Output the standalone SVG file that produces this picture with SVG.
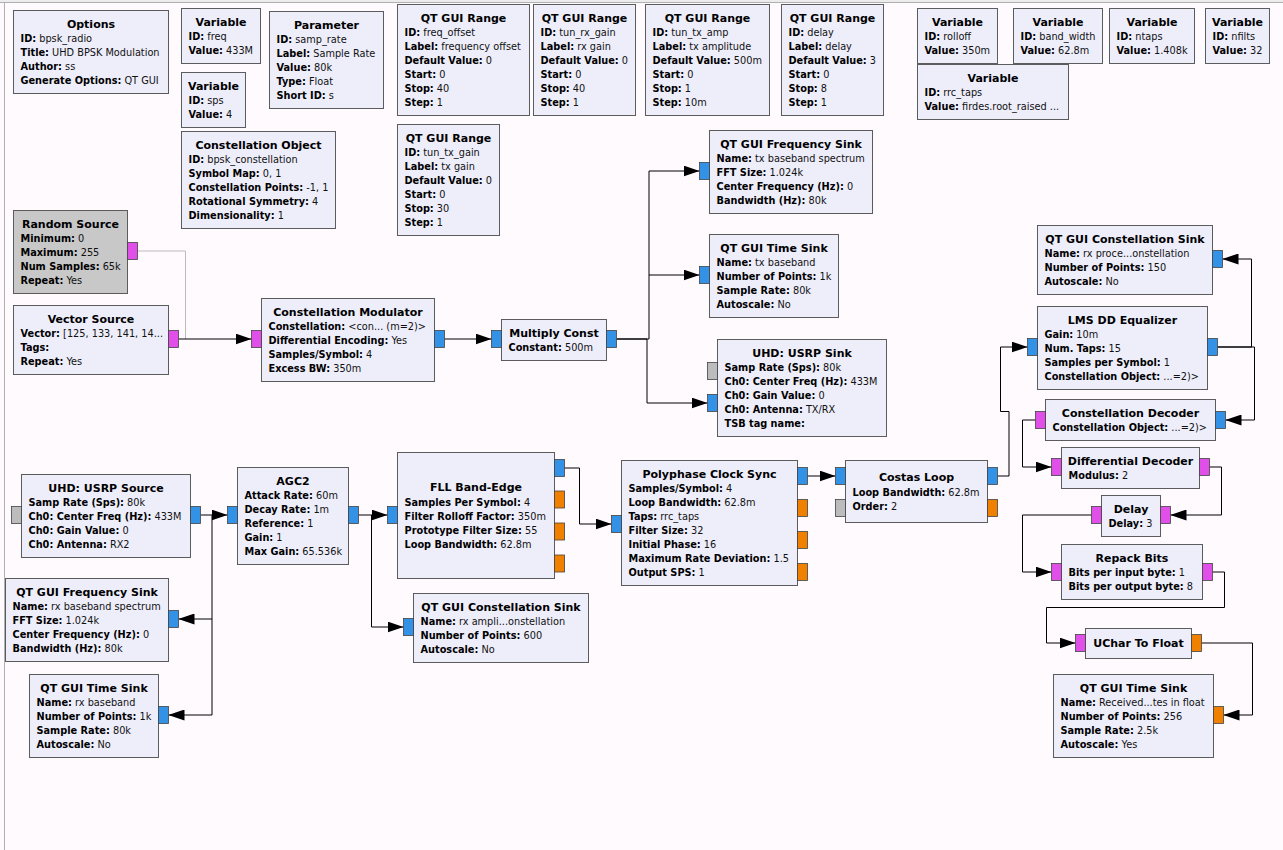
<svg xmlns="http://www.w3.org/2000/svg" width="1283" height="850" viewBox="0 0 1283 850">
<defs>
<style>
.blk{fill:#eeeefb;stroke:#5c5c5c;stroke-width:1}
.dis{fill:#c8c8c8;stroke:#5c5c5c;stroke-width:1}
.t{font-family:"DejaVu Sans",sans-serif;font-size:11px;font-weight:bold;text-anchor:middle;fill:#000}
.p{font-family:"DejaVu Sans",sans-serif;font-size:9.75px;fill:#111}
.b{font-weight:bold;fill:#000}
.pc{fill:#3492e6;stroke:#444;stroke-width:0.8}
.pb{fill:#e050e8;stroke:#444;stroke-width:0.8}
.pf{fill:#f08000;stroke:#444;stroke-width:0.8}
.pm{fill:#bcbcbc;stroke:#444;stroke-width:0.8}
.c{fill:none;stroke:#000;stroke-width:1;marker-end:url(#arr)}
.cn{fill:none;stroke:#000;stroke-width:1}
</style>
<marker id="arr" viewBox="0 0 16 11" refX="16" refY="5.5" markerWidth="16" markerHeight="11" markerUnits="userSpaceOnUse" orient="auto">
<path d="M0,0 L16,5.5 L0,11 z" fill="#000"/>
</marker>
</defs>
<rect x="0" y="0" width="1283" height="850" fill="#fefafe"/>
<rect x="0" y="0" width="1283" height="2" fill="#ececec"/>
<line x1="0" y1="2.5" x2="1283" y2="2.5" stroke="#b0b0b0"/>
<line x1="4.5" y1="2.5" x2="4.5" y2="850" stroke="#b0b0b0"/>

<g id="connectors">
<path d="M137.5,251 H185.5 V339" fill="none" stroke="#bbbbbb" stroke-width="1"/>
<path class="c" d="M178.5,339 H251.5"/>
<path class="c" d="M444.5,339 H491.5"/>
<path class="c" d="M616.5,339 H649 V171 H699.5"/>
<path class="c" d="M649,275 H699.5"/>
<path class="c" d="M616.5,339 H647 V403 H707.5"/>
<path class="c" d="M200.5,515 H227.5"/>
<path class="cn" d="M212,515 V715"/>
<path class="c" d="M212,619 H178.5"/>
<path class="c" d="M212,715 H168.5"/>
<path class="c" d="M358.5,515 H387.5"/>
<path class="c" d="M371.5,515 V627 H403.5"/>
<path class="c" d="M564.5,468 H579.5 V524 H611.5"/>
<path class="c" d="M807.5,476 H835.5"/>
<path class="c" d="M997.5,476 H1009 V411.5 H1000.5 V347 H1027.5"/>
<path class="c" d="M1217.5,347 H1251.5 V259 H1222.5"/>
<path class="c" d="M1217.5,347 H1254.5 V420 H1225.5"/>
<path class="c" d="M1035.5,420 H1022.5 V467 H1051.5"/>
<path class="c" d="M1209.5,467 H1221.5 V515 H1170.5"/>
<path class="c" d="M1091.5,515 H1022.5 V572 H1051.5"/>
<path class="c" d="M1212.5,572 H1224.5 V607.5 H1046.5 V643 H1075.5"/>
<path class="c" d="M1201.5,643 H1252.5 V715 H1223.5"/>
</g>

<g id="options">
<rect class="blk" x="13.5" y="10.5" width="155" height="83"/>
<text class="t" x="91" y="27.5">Options</text>
<text class="p" x="20.5" y="42"><tspan class="b">ID:</tspan> bpsk_radio</text>
<text class="p" x="20.5" y="56"><tspan class="b">Title:</tspan> UHD BPSK Modulation</text>
<text class="p" x="20.5" y="70"><tspan class="b">Author:</tspan> ss</text>
<text class="p" x="20.5" y="84"><tspan class="b">Generate Options:</tspan> QT GUI</text>
</g>

<g id="var_freq">
<rect class="blk" x="181.5" y="8.5" width="79" height="55"/>
<text class="t" x="221" y="25.5">Variable</text>
<text class="p" x="188.5" y="40"><tspan class="b">ID:</tspan> freq</text>
<text class="p" x="188.5" y="54"><tspan class="b">Value:</tspan> 433M</text>
</g>

<g id="var_sps">
<rect class="blk" x="181.5" y="72.5" width="64" height="55"/>
<text class="t" x="213.5" y="89.5">Variable</text>
<text class="p" x="188.5" y="104"><tspan class="b">ID:</tspan> sps</text>
<text class="p" x="188.5" y="118"><tspan class="b">Value:</tspan> 4</text>
</g>

<g id="param_samp_rate">
<rect class="blk" x="269.5" y="11.5" width="114" height="97"/>
<text class="t" x="326.5" y="28.5">Parameter</text>
<text class="p" x="276.5" y="43"><tspan class="b">ID:</tspan> samp_rate</text>
<text class="p" x="276.5" y="57"><tspan class="b">Label:</tspan> Sample Rate</text>
<text class="p" x="276.5" y="71"><tspan class="b">Value:</tspan> 80k</text>
<text class="p" x="276.5" y="85"><tspan class="b">Type:</tspan> Float</text>
<text class="p" x="276.5" y="99"><tspan class="b">Short ID:</tspan> s</text>
</g>

<g id="const_obj">
<rect class="blk" x="181.5" y="131.5" width="154" height="97"/>
<text class="t" x="258.5" y="148.5">Constellation Object</text>
<text class="p" x="188.5" y="163"><tspan class="b">ID:</tspan> bpsk_constellation</text>
<text class="p" x="188.5" y="177"><tspan class="b">Symbol Map:</tspan> 0, 1</text>
<text class="p" x="188.5" y="191"><tspan class="b">Constellation Points:</tspan> -1, 1</text>
<text class="p" x="188.5" y="205"><tspan class="b">Rotational Symmetry:</tspan> 4</text>
<text class="p" x="188.5" y="219"><tspan class="b">Dimensionality:</tspan> 1</text>
</g>

<g id="range_freq_offset">
<rect class="blk" x="397.5" y="4.5" width="132" height="111"/>
<text class="t" x="463.5" y="21.5">QT GUI Range</text>
<text class="p" x="404.5" y="36"><tspan class="b">ID:</tspan> freq_offset</text>
<text class="p" x="404.5" y="50"><tspan class="b">Label:</tspan> frequency offset</text>
<text class="p" x="404.5" y="64"><tspan class="b">Default Value:</tspan> 0</text>
<text class="p" x="404.5" y="78"><tspan class="b">Start:</tspan> 0</text>
<text class="p" x="404.5" y="92"><tspan class="b">Stop:</tspan> 40</text>
<text class="p" x="404.5" y="106"><tspan class="b">Step:</tspan> 1</text>
</g>

<g id="range_rx_gain">
<rect class="blk" x="533.5" y="4.5" width="102" height="111"/>
<text class="t" x="584.5" y="21.5">QT GUI Range</text>
<text class="p" x="540.5" y="36"><tspan class="b">ID:</tspan> tun_rx_gain</text>
<text class="p" x="540.5" y="50"><tspan class="b">Label:</tspan> rx gain</text>
<text class="p" x="540.5" y="64"><tspan class="b">Default Value:</tspan> 0</text>
<text class="p" x="540.5" y="78"><tspan class="b">Start:</tspan> 0</text>
<text class="p" x="540.5" y="92"><tspan class="b">Stop:</tspan> 40</text>
<text class="p" x="540.5" y="106"><tspan class="b">Step:</tspan> 1</text>
</g>

<g id="range_tx_amp">
<rect class="blk" x="645.5" y="4.5" width="124" height="111"/>
<text class="t" x="707.5" y="21.5">QT GUI Range</text>
<text class="p" x="652.5" y="36"><tspan class="b">ID:</tspan> tun_tx_amp</text>
<text class="p" x="652.5" y="50"><tspan class="b">Label:</tspan> tx amplitude</text>
<text class="p" x="652.5" y="64"><tspan class="b">Default Value:</tspan> 500m</text>
<text class="p" x="652.5" y="78"><tspan class="b">Start:</tspan> 0</text>
<text class="p" x="652.5" y="92"><tspan class="b">Stop:</tspan> 1</text>
<text class="p" x="652.5" y="106"><tspan class="b">Step:</tspan> 10m</text>
</g>

<g id="range_delay">
<rect class="blk" x="781.5" y="4.5" width="102" height="111"/>
<text class="t" x="832.5" y="21.5">QT GUI Range</text>
<text class="p" x="788.5" y="36"><tspan class="b">ID:</tspan> delay</text>
<text class="p" x="788.5" y="50"><tspan class="b">Label:</tspan> delay</text>
<text class="p" x="788.5" y="64"><tspan class="b">Default Value:</tspan> 3</text>
<text class="p" x="788.5" y="78"><tspan class="b">Start:</tspan> 0</text>
<text class="p" x="788.5" y="92"><tspan class="b">Stop:</tspan> 8</text>
<text class="p" x="788.5" y="106"><tspan class="b">Step:</tspan> 1</text>
</g>

<g id="range_tx_gain">
<rect class="blk" x="397.5" y="124.5" width="102" height="111"/>
<text class="t" x="448.5" y="141.5">QT GUI Range</text>
<text class="p" x="404.5" y="156"><tspan class="b">ID:</tspan> tun_tx_gain</text>
<text class="p" x="404.5" y="170"><tspan class="b">Label:</tspan> tx gain</text>
<text class="p" x="404.5" y="184"><tspan class="b">Default Value:</tspan> 0</text>
<text class="p" x="404.5" y="198"><tspan class="b">Start:</tspan> 0</text>
<text class="p" x="404.5" y="212"><tspan class="b">Stop:</tspan> 30</text>
<text class="p" x="404.5" y="226"><tspan class="b">Step:</tspan> 1</text>
</g>

<g id="var_rolloff">
<rect class="blk" x="917.5" y="8.5" width="80" height="55"/>
<text class="t" x="957.5" y="25.5">Variable</text>
<text class="p" x="924.5" y="40"><tspan class="b">ID:</tspan> rolloff</text>
<text class="p" x="924.5" y="54"><tspan class="b">Value:</tspan> 350m</text>
</g>

<g id="var_band_width">
<rect class="blk" x="1013.5" y="8.5" width="89" height="55"/>
<text class="t" x="1058" y="25.5">Variable</text>
<text class="p" x="1020.5" y="40"><tspan class="b">ID:</tspan> band_width</text>
<text class="p" x="1020.5" y="54"><tspan class="b">Value:</tspan> 62.8m</text>
</g>

<g id="var_ntaps">
<rect class="blk" x="1109.5" y="8.5" width="85" height="55"/>
<text class="t" x="1152" y="25.5">Variable</text>
<text class="p" x="1116.5" y="40"><tspan class="b">ID:</tspan> ntaps</text>
<text class="p" x="1116.5" y="54"><tspan class="b">Value:</tspan> 1.408k</text>
</g>

<g id="var_nfilts">
<rect class="blk" x="1205.5" y="8.5" width="64" height="55"/>
<text class="t" x="1237.5" y="25.5">Variable</text>
<text class="p" x="1212.5" y="40"><tspan class="b">ID:</tspan> nfilts</text>
<text class="p" x="1212.5" y="54"><tspan class="b">Value:</tspan> 32</text>
</g>

<g id="var_rrc_taps">
<rect class="blk" x="917.5" y="64.5" width="151" height="55"/>
<text class="t" x="993" y="81.5">Variable</text>
<text class="p" x="924.5" y="96"><tspan class="b">ID:</tspan> rrc_taps</text>
<text class="p" x="924.5" y="110"><tspan class="b">Value:</tspan> firdes.root_raised ...</text>
</g>

<g id="random_source">
<rect class="dis" x="13.5" y="210.5" width="114" height="83"/>
<text class="t" x="70.5" y="227.5">Random Source</text>
<text class="p" x="20.5" y="242"><tspan class="b">Minimum:</tspan> 0</text>
<text class="p" x="20.5" y="256"><tspan class="b">Maximum:</tspan> 255</text>
<text class="p" x="20.5" y="270"><tspan class="b">Num Samples:</tspan> 65k</text>
<text class="p" x="20.5" y="284"><tspan class="b">Repeat:</tspan> Yes</text>
<rect class="pb" x="127.5" y="242.5" width="10" height="17"/>
</g>

<g id="vector_source">
<rect class="blk" x="13.5" y="305.5" width="155" height="69"/>
<text class="t" x="91" y="322.5">Vector Source</text>
<text class="p" x="20.5" y="337"><tspan class="b">Vector:</tspan> [125, 133, 141, 14...</text>
<text class="p" x="20.5" y="351"><tspan class="b">Tags:</tspan></text>
<text class="p" x="20.5" y="365"><tspan class="b">Repeat:</tspan> Yes</text>
<rect class="pb" x="168.5" y="330.5" width="10" height="17"/>
</g>

<g id="const_mod">
<rect class="blk" x="261.5" y="298.5" width="173" height="83"/>
<text class="t" x="348" y="315.5">Constellation Modulator</text>
<text class="p" x="268.5" y="330"><tspan class="b">Constellation:</tspan> &lt;con... (m=2)&gt;</text>
<text class="p" x="268.5" y="344"><tspan class="b">Differential Encoding:</tspan> Yes</text>
<text class="p" x="268.5" y="358"><tspan class="b">Samples/Symbol:</tspan> 4</text>
<text class="p" x="268.5" y="372"><tspan class="b">Excess BW:</tspan> 350m</text>
<rect class="pb" x="251.5" y="330.5" width="10" height="17"/>
<rect class="pc" x="434.5" y="330.5" width="10" height="17"/>
</g>

<g id="mult_const">
<rect class="blk" x="501.5" y="319.5" width="105" height="41"/>
<text class="t" x="554" y="336.5">Multiply Const</text>
<text class="p" x="508.5" y="351"><tspan class="b">Constant:</tspan> 500m</text>
<rect class="pc" x="491.5" y="330.5" width="10" height="17"/>
<rect class="pc" x="606.5" y="330.5" width="10" height="17"/>
</g>

<g id="freq_sink_tx">
<rect class="blk" x="709.5" y="130.5" width="163" height="83"/>
<text class="t" x="791" y="147.5">QT GUI Frequency Sink</text>
<text class="p" x="716.5" y="162"><tspan class="b">Name:</tspan> tx baseband spectrum</text>
<text class="p" x="716.5" y="176"><tspan class="b">FFT Size:</tspan> 1.024k</text>
<text class="p" x="716.5" y="190"><tspan class="b">Center Frequency (Hz):</tspan> 0</text>
<text class="p" x="716.5" y="204"><tspan class="b">Bandwidth (Hz):</tspan> 80k</text>
<rect class="pc" x="699.5" y="162.5" width="10" height="17"/>
</g>

<g id="time_sink_tx">
<rect class="blk" x="709.5" y="234.5" width="129" height="83"/>
<text class="t" x="774" y="251.5">QT GUI Time Sink</text>
<text class="p" x="716.5" y="266"><tspan class="b">Name:</tspan> tx baseband</text>
<text class="p" x="716.5" y="280"><tspan class="b">Number of Points:</tspan> 1k</text>
<text class="p" x="716.5" y="294"><tspan class="b">Sample Rate:</tspan> 80k</text>
<text class="p" x="716.5" y="308"><tspan class="b">Autoscale:</tspan> No</text>
<rect class="pc" x="699.5" y="266.5" width="10" height="17"/>
</g>

<g id="usrp_sink">
<rect class="blk" x="717.5" y="339.5" width="169" height="97"/>
<text class="t" x="802" y="356.5">UHD: USRP Sink</text>
<text class="p" x="724.5" y="371"><tspan class="b">Samp Rate (Sps):</tspan> 80k</text>
<text class="p" x="724.5" y="385"><tspan class="b">Ch0: Center Freq (Hz):</tspan> 433M</text>
<text class="p" x="724.5" y="399"><tspan class="b">Ch0: Gain Value:</tspan> 0</text>
<text class="p" x="724.5" y="413"><tspan class="b">Ch0: Antenna:</tspan> TX/RX</text>
<text class="p" x="724.5" y="427"><tspan class="b">TSB tag name:</tspan></text>
<rect class="pm" x="707.5" y="362.5" width="10" height="17"/>
<rect class="pc" x="707.5" y="394.5" width="10" height="17"/>
</g>

<g id="const_sink_rx_proc">
<rect class="blk" x="1037.5" y="225.5" width="175" height="69"/>
<text class="t" x="1125" y="242.5">QT GUI Constellation Sink</text>
<text class="p" x="1044.5" y="257"><tspan class="b">Name:</tspan> rx proce...onstellation</text>
<text class="p" x="1044.5" y="271"><tspan class="b">Number of Points:</tspan> 150</text>
<text class="p" x="1044.5" y="285"><tspan class="b">Autoscale:</tspan> No</text>
<rect class="pc" x="1212.5" y="250.5" width="10" height="17"/>
</g>

<g id="lms_dd_equalizer">
<rect class="blk" x="1037.5" y="306.5" width="170" height="83"/>
<text class="t" x="1122.5" y="323.5">LMS DD Equalizer</text>
<text class="p" x="1044.5" y="338"><tspan class="b">Gain:</tspan> 10m</text>
<text class="p" x="1044.5" y="352"><tspan class="b">Num. Taps:</tspan> 15</text>
<text class="p" x="1044.5" y="366"><tspan class="b">Samples per Symbol:</tspan> 1</text>
<text class="p" x="1044.5" y="380"><tspan class="b">Constellation Object:</tspan> ...=2)&gt;</text>
<rect class="pc" x="1027.5" y="338.5" width="10" height="17"/>
<rect class="pc" x="1207.5" y="338.5" width="10" height="17"/>
</g>

<g id="const_decoder">
<rect class="blk" x="1045.5" y="399.5" width="170" height="41"/>
<text class="t" x="1130.5" y="416.5">Constellation Decoder</text>
<text class="p" x="1052.5" y="431"><tspan class="b">Constellation Object:</tspan> ...=2)&gt;</text>
<rect class="pc" x="1215.5" y="411.5" width="10" height="17"/>
<rect class="pb" x="1035.5" y="411.5" width="10" height="17"/>
</g>

<g id="diff_decoder">
<rect class="blk" x="1061.5" y="447.5" width="138" height="41"/>
<text class="t" x="1130.5" y="464.5">Differential Decoder</text>
<text class="p" x="1068.5" y="479"><tspan class="b">Modulus:</tspan> 2</text>
<rect class="pb" x="1051.5" y="458.5" width="10" height="17"/>
<rect class="pb" x="1199.5" y="458.5" width="10" height="17"/>
</g>

<g id="delay">
<rect class="blk" x="1101.5" y="495.5" width="59" height="41"/>
<text class="t" x="1131" y="512.5">Delay</text>
<text class="p" x="1108.5" y="527"><tspan class="b">Delay:</tspan> 3</text>
<rect class="pb" x="1160.5" y="506.5" width="10" height="17"/>
<rect class="pb" x="1091.5" y="506.5" width="10" height="17"/>
</g>

<g id="repack_bits">
<rect class="blk" x="1061.5" y="544.5" width="141" height="55"/>
<text class="t" x="1132" y="561.5">Repack Bits</text>
<text class="p" x="1068.5" y="576"><tspan class="b">Bits per input byte:</tspan> 1</text>
<text class="p" x="1068.5" y="590"><tspan class="b">Bits per output byte:</tspan> 8</text>
<rect class="pb" x="1051.5" y="563.5" width="10" height="17"/>
<rect class="pb" x="1202.5" y="563.5" width="10" height="17"/>
</g>

<g id="uchar_to_float">
<rect class="blk" x="1085.5" y="628.5" width="106" height="30"/>
<text class="t" x="1138.5" y="647">UChar To Float</text>
<rect class="pb" x="1075.5" y="634.5" width="10" height="17"/>
<rect class="pf" x="1191.5" y="634.5" width="10" height="17"/>
</g>

<g id="time_sink_rx_float">
<rect class="blk" x="1053.5" y="674.5" width="160" height="83"/>
<text class="t" x="1133.5" y="691.5">QT GUI Time Sink</text>
<text class="p" x="1060.5" y="706"><tspan class="b">Name:</tspan> Received...tes in float</text>
<text class="p" x="1060.5" y="720"><tspan class="b">Number of Points:</tspan> 256</text>
<text class="p" x="1060.5" y="734"><tspan class="b">Sample Rate:</tspan> 2.5k</text>
<text class="p" x="1060.5" y="748"><tspan class="b">Autoscale:</tspan> Yes</text>
<rect class="pf" x="1213.5" y="706.5" width="10" height="17"/>
</g>

<g id="costas_loop">
<rect class="blk" x="845.5" y="460.5" width="142" height="62"/>
<text class="t" x="916.5" y="481">Costas Loop</text>
<text class="p" x="852.5" y="495.5"><tspan class="b">Loop Bandwidth:</tspan> 62.8m</text>
<text class="p" x="852.5" y="509.5"><tspan class="b">Order:</tspan> 2</text>
<rect class="pc" x="835.5" y="467.5" width="10" height="17"/>
<rect class="pm" x="835.5" y="499.5" width="10" height="17"/>
<rect class="pc" x="987.5" y="467.5" width="10" height="17"/>
<rect class="pf" x="987.5" y="499.5" width="10" height="17"/>
</g>

<g id="polyphase_clock_sync">
<rect class="blk" x="621.5" y="460.5" width="176" height="125"/>
<text class="t" x="709.5" y="477.5">Polyphase Clock Sync</text>
<text class="p" x="628.5" y="492"><tspan class="b">Samples/Symbol:</tspan> 4</text>
<text class="p" x="628.5" y="506"><tspan class="b">Loop Bandwidth:</tspan> 62.8m</text>
<text class="p" x="628.5" y="520"><tspan class="b">Taps:</tspan> rrc_taps</text>
<text class="p" x="628.5" y="534"><tspan class="b">Filter Size:</tspan> 32</text>
<text class="p" x="628.5" y="548"><tspan class="b">Initial Phase:</tspan> 16</text>
<text class="p" x="628.5" y="562"><tspan class="b">Maximum Rate Deviation:</tspan> 1.5</text>
<text class="p" x="628.5" y="576"><tspan class="b">Output SPS:</tspan> 1</text>
<rect class="pc" x="611.5" y="515.5" width="10" height="17"/>
<rect class="pc" x="797.5" y="467.5" width="10" height="17"/>
<rect class="pf" x="797.5" y="499.5" width="10" height="17"/>
<rect class="pf" x="797.5" y="531.5" width="10" height="17"/>
<rect class="pf" x="797.5" y="563.5" width="10" height="17"/>
</g>

<g id="fll_band_edge">
<rect class="blk" x="397.5" y="452.5" width="157" height="126"/>
<text class="t" x="476" y="491">FLL Band-Edge</text>
<text class="p" x="404.5" y="505.5"><tspan class="b">Samples Per Symbol:</tspan> 4</text>
<text class="p" x="404.5" y="519.5"><tspan class="b">Filter Rolloff Factor:</tspan> 350m</text>
<text class="p" x="404.5" y="533.5"><tspan class="b">Prototype Filter Size:</tspan> 55</text>
<text class="p" x="404.5" y="547.5"><tspan class="b">Loop Bandwidth:</tspan> 62.8m</text>
<rect class="pc" x="387.5" y="506.5" width="10" height="17"/>
<rect class="pc" x="554.5" y="459.5" width="10" height="17"/>
<rect class="pf" x="554.5" y="491" width="10" height="17"/>
<rect class="pf" x="554.5" y="523" width="10" height="17"/>
<rect class="pf" x="554.5" y="555" width="10" height="17"/>
</g>

<g id="agc2">
<rect class="blk" x="237.5" y="467.5" width="111" height="97"/>
<text class="t" x="293" y="484.5">AGC2</text>
<text class="p" x="244.5" y="499"><tspan class="b">Attack Rate:</tspan> 60m</text>
<text class="p" x="244.5" y="513"><tspan class="b">Decay Rate:</tspan> 1m</text>
<text class="p" x="244.5" y="527"><tspan class="b">Reference:</tspan> 1</text>
<text class="p" x="244.5" y="541"><tspan class="b">Gain:</tspan> 1</text>
<text class="p" x="244.5" y="555"><tspan class="b">Max Gain:</tspan> 65.536k</text>
<rect class="pc" x="227.5" y="506.5" width="10" height="17"/>
<rect class="pc" x="348.5" y="506.5" width="10" height="17"/>
</g>

<g id="usrp_source">
<rect class="blk" x="21.5" y="474.5" width="169" height="83"/>
<text class="t" x="106" y="491.5">UHD: USRP Source</text>
<text class="p" x="28.5" y="506"><tspan class="b">Samp Rate (Sps):</tspan> 80k</text>
<text class="p" x="28.5" y="520"><tspan class="b">Ch0: Center Freq (Hz):</tspan> 433M</text>
<text class="p" x="28.5" y="534"><tspan class="b">Ch0: Gain Value:</tspan> 0</text>
<text class="p" x="28.5" y="548"><tspan class="b">Ch0: Antenna:</tspan> RX2</text>
<rect class="pm" x="11.5" y="506.5" width="10" height="17"/>
<rect class="pc" x="190.5" y="506.5" width="10" height="17"/>
</g>

<g id="freq_sink_rx">
<rect class="blk" x="5.5" y="578.5" width="163" height="83"/>
<text class="t" x="87" y="595.5">QT GUI Frequency Sink</text>
<text class="p" x="12.5" y="610"><tspan class="b">Name:</tspan> rx baseband spectrum</text>
<text class="p" x="12.5" y="624"><tspan class="b">FFT Size:</tspan> 1.024k</text>
<text class="p" x="12.5" y="638"><tspan class="b">Center Frequency (Hz):</tspan> 0</text>
<text class="p" x="12.5" y="652"><tspan class="b">Bandwidth (Hz):</tspan> 80k</text>
<rect class="pc" x="168.5" y="610.5" width="10" height="17"/>
</g>

<g id="time_sink_rx">
<rect class="blk" x="29.5" y="674.5" width="129" height="83"/>
<text class="t" x="94" y="691.5">QT GUI Time Sink</text>
<text class="p" x="36.5" y="706"><tspan class="b">Name:</tspan> rx baseband</text>
<text class="p" x="36.5" y="720"><tspan class="b">Number of Points:</tspan> 1k</text>
<text class="p" x="36.5" y="734"><tspan class="b">Sample Rate:</tspan> 80k</text>
<text class="p" x="36.5" y="748"><tspan class="b">Autoscale:</tspan> No</text>
<rect class="pc" x="158.5" y="706.5" width="10" height="17"/>
</g>

<g id="const_sink_rx_ampli">
<rect class="blk" x="413.5" y="593.5" width="175" height="69"/>
<text class="t" x="501" y="610.5">QT GUI Constellation Sink</text>
<text class="p" x="420.5" y="625"><tspan class="b">Name:</tspan> rx ampli...onstellation</text>
<text class="p" x="420.5" y="639"><tspan class="b">Number of Points:</tspan> 600</text>
<text class="p" x="420.5" y="653"><tspan class="b">Autoscale:</tspan> No</text>
<rect class="pc" x="403.5" y="618.5" width="10" height="17"/>
</g>
</svg>
